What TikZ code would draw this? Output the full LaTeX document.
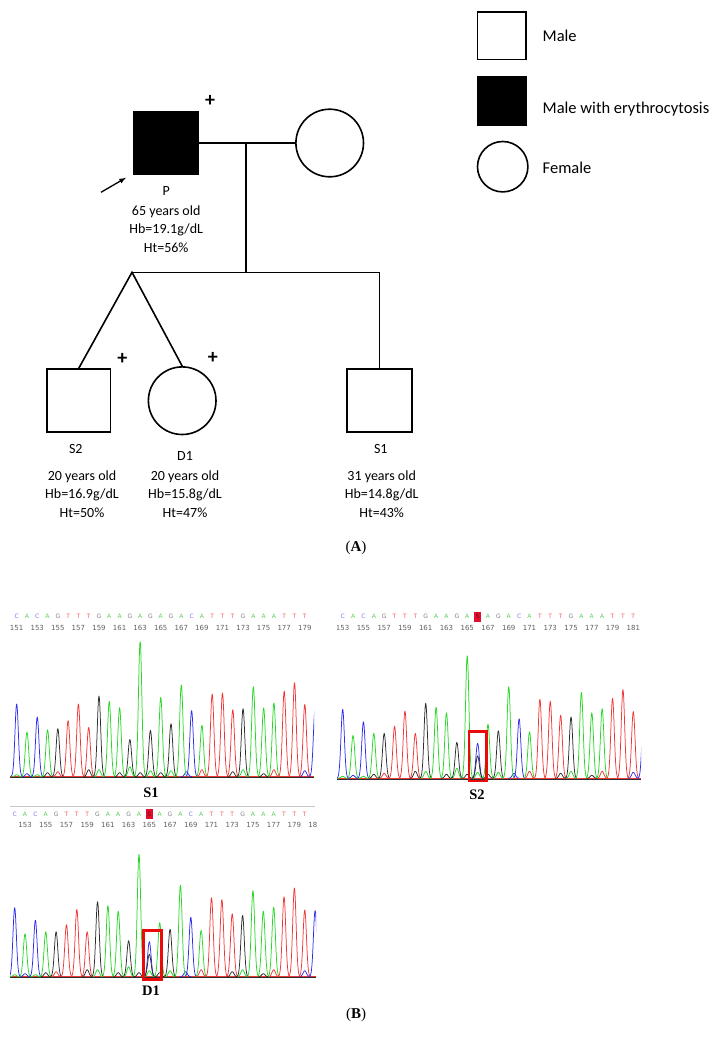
\documentclass[tikz,border=0pt]{standalone}
\usepackage{fontspec}
\setmainfont{Carlito}
\newfontfamily\seqfont{DejaVu Sans}
\newfontfamily\capfont{Liberation Serif}
\usepackage{tikz}
\usetikzlibrary{arrows.meta}

\definecolor{tblue}{RGB}{45,45,235}
\definecolor{tgreen}{RGB}{40,215,40}
\definecolor{tred}{RGB}{240,55,55}
\definecolor{tblack}{RGB}{45,45,45}
\definecolor{lC}{RGB}{120,120,235}
\definecolor{lA}{RGB}{90,205,90}
\definecolor{lG}{RGB}{125,125,125}
\definecolor{lT}{RGB}{240,95,95}
\definecolor{lS}{RGB}{120,0,20}
\definecolor{mutred}{RGB}{225,15,45}
\definecolor{numgray}{RGB}{95,95,95}
\definecolor{boxred}{RGB}{235,10,10}

\tikzset{
    malebox/.style={shape=rectangle, draw=black, line width=1.6pt, minimum width=64pt, minimum height=63pt, inner sep=0pt},
    femcirc/.style={shape=circle, draw=black, line width=1.6pt, minimum size=67.6pt, inner sep=0pt},
    pedline/.style={line width=1.6pt},
    pedtext/.style={font=\fontsize{14}{18.7}\selectfont, align=center, inner sep=0pt},
    legtext/.style={font=\fontsize{16.5}{20}\selectfont, anchor=base west, inner sep=0pt},
    plusmark/.style={font=\fontsize{20}{20}\selectfont\bfseries, inner sep=0pt},
    trace/.style={line width=0.75pt, line join=round},
    seqletter/.style={font=\seqfont\fontsize{6}{6}\selectfont, inner sep=0pt},
    letC/.style={text=lC}, letA/.style={text=lA}, letG/.style={text=lG}, letT/.style={text=lT},
    letS/.style={text=lS, fill=mutred, minimum width=7pt, minimum height=10pt},
    seqnum/.style={font=\seqfont\fontsize{7}{7}\selectfont, text=numgray, inner sep=0pt},
    hitbox/.style={draw=boxred, line width=2.5pt, inner sep=0pt},
    panellabel/.style={font=\capfont\bfseries\fontsize{14.5}{15}\selectfont, inner sep=0pt},
    partlabel/.style={font=\capfont\fontsize{15}{16}\selectfont, inner sep=0pt},
}

% peak lists: position/colour/height
\def\sonepeaks{1/tblue/72.7, 2/tgreen/44.7, 3/tblue/59.7, 4/tgreen/47, 5/tblack/48, 6/tred/56, 7/tred/72.7, 8/tred/49.3, 9/tblack/80.7, 10/tgreen/75.3, 11/tgreen/69, 12/tblack/37.3, 13/tgreen/135, 14/tblack/46.3, 15/tgreen/79.3, 16/tblack/53, 17/tgreen/91.7, 18/tblue/66, 19/tgreen/51.3, 20/tred/82.7, 21/tred/83.7, 22/tred/67, 23/tblack/68, 24/tgreen/90, 25/tgreen/68.7, 26/tgreen/73.7, 27/tred/85.7, 28/tred/94, 29/tred/72.3, 30/tblue/68}
\def\mutpeaks{1/tblue/69, 2/tgreen/43, 3/tblue/56.5, 4/tgreen/45, 5/tblack/45, 6/tred/52, 7/tred/67.3, 8/tred/45, 9/tblack/75, 10/tgreen/71, 11/tgreen/65.5, 12/tblack/36, 13/tgreen/122.5, 14/tblue/35, 14/tblack/22.5, 15/tgreen/54, 16/tblack/47.5, 17/tgreen/91.5, 18/tblue/59.5, 19/tgreen/46.5, 20/tred/79, 21/tred/77, 22/tred/63, 23/tblack/61.3, 24/tgreen/86, 25/tgreen/65.5, 26/tgreen/69.5, 27/tred/80, 28/tred/88.7, 29/tred/66.8, 30/tblue/66}
\def\minorpeaks{1/tgreen/2, 2/tblue/3, 3/tgreen/2, 4/tblack/4, 5/tred/5, 8/tblack/7, 9/tgreen/7, 11/tblack/4, 12/tgreen/10, 13/tblack/4, 14/tgreen/6, 15/tblack/4, 16/tgreen/6, 17.5/tblue/5, 19/tred/7, 22/tblack/5, 23/tgreen/7, 25/tblack/3, 26/tred/7, 29/tblue/6}
\def\seqnorm{C,A,C,A,G,T,T,T,G,A,A,G,A,G,A,G,A,C,A,T,T,T,G,A,A,A,T,T,T}
\def\seqmut{C,A,C,A,G,T,T,T,G,A,A,G,A,S,A,G,A,C,A,T,T,T,G,A,A,A,T,T,T}

% #1 first peak x, #2 spacing, #3 baseline y, #4 list
\newcommand{\drawtrace}[4]{%
    \foreach \pn/\pcol/\pht in #4 {
        \draw[trace, \pcol] plot[domain=-5.5:5.5, samples=23, smooth]
            ({#1+(\pn-1)*#2+\x}, {#3-\pht*exp(-(\x*\x)/5.78)});
    }}
% #1 first x, #2 spacing, #3 y, #4 name prefix, #5 letters
\newcommand{\seqrow}[5]{%
    \foreach \pl [count=\pn] in #5 {
        \node[seqletter, let\pl] (#4\pn) at ({#1+(\pn-1)*#2}, #3) {\pl};
    }}
% #1 first x, #2 step, #3 y, #4 name prefix, #5 numbers
\newcommand{\numrow}[5]{%
    \foreach \nv [count=\pn] in {#5} {
        \node[seqnum] (#4\pn) at ({#1+(\pn-1)*#2}, #3) {\nv};
    }}

\begin{document}
\begin{tikzpicture}[x=1pt, y=-1pt, >=latex]
    \useasboundingbox (0,0) rectangle (712,1047);

    % legend
    \node[malebox, minimum width=48.4pt, minimum height=47.3pt] (legM) at (501.8,35.7) {};
    \node[malebox, fill=black, minimum width=48.4pt, minimum height=48pt] (legE) at (501.8,100.7) {};
    \node[femcirc, minimum size=50.4pt] (legF) at (502.7,166.7) {};
    \node[legtext] (legMtxt) at (542.5,41.2) {Male};
    \node[legtext] (legEtxt) at (542.5,113.8) {Male with erythrocytosis};
    \node[legtext] (legFtxt) at (542.5,173.2) {Female};

    % pedigree
    \node[malebox, fill=black] (P) at (165.8,143) {};
    \node[femcirc] (W) at (329.7,143) {};
    \node[malebox, minimum width=63.5pt] (S2) at (78.8,400.5) {};
    \node[femcirc] (D1) at (182.2,400.7) {};
    \node[malebox, minimum width=64.8pt] (S1) at (379.5,400.5) {};
    \coordinate (mate) at (246.1,143);
    \coordinate (sibmid) at (246.1,272.3);
    \coordinate (twin) at (132,272.3);
    \coordinate (sibend) at (379.5,272.3);

    \draw[pedline] (P.east) -- (W.west);
    \draw[pedline] (mate) -- (sibmid);
    \draw[pedline] (S2.north) -- (twin) -- (D1.north);
    \draw[pedline] (twin) -- (sibend) -- (S1.north);

    \coordinate (ptail) at (101,192.3);
    \coordinate (phead) at (126,177.7);
    \draw[->, line width=1.3pt] (ptail) -- (phead);

    \node[plusmark] (Pplus) at (210,101) {+};
    \node[plusmark] (S2plus) at (122.4,359.3) {+};
    \node[plusmark] (D1plus) at (212.8,357.7) {+};

    \node[pedtext] (Pname) at (166.2,190.7) {P};
    \node[pedtext] (Pdata) at (166.2,229) {65 years old\\Hb=19.1g/dL\\Ht=56\%};
    \node[pedtext] (S2name) at (75.8,449.3) {S2};
    \node[pedtext] (S2data) at (82,494) {20 years old\\Hb=16.9g/dL\\Ht=50\%};
    \node[pedtext] (D1name) at (185,456) {D1};
    \node[pedtext] (D1data) at (185,494) {20 years old\\Hb=15.8g/dL\\Ht=47\%};
    \node[pedtext] (S1name) at (380.8,449.3) {S1};
    \node[pedtext] (S1data) at (381.7,494) {31 years old\\Hb=14.8g/dL\\Ht=43\%};

    \node[partlabel] (capA) at (356,548) {(\textbf{A})};

    % chromatogram S1
    \begin{scope}
        \clip (10,600) rectangle (314,790);
        \draw[trace, tred] (10,776.7) -- (314,776.7);
        \draw[trace, tblack, line width=0.5pt] (10,777.4) -- (314,777.4);
        \drawtrace{16.67}{10.29}{776.7}{\minorpeaks}
        \drawtrace{16.67}{10.29}{776.7}{\sonepeaks}
        \seqrow{16.67}{10.29}{616}{sa}{\seqnorm}
        \numrow{16.67}{20.58}{627.7}{na}{151,153,...,179}
    \end{scope}
    \node[panellabel] (labS1) at (151,792.5) {S1};

    % chromatogram S2
    \begin{scope}
        \clip (337,600) rectangle (641,790);
        \draw[trace, tred] (337,778.3) -- (641,778.3);
        \draw[trace, tblack, line width=0.5pt] (337,779) -- (641,779);
        \drawtrace{342.67}{10.38}{778.3}{\minorpeaks}
        \drawtrace{342.67}{10.38}{778.3}{\mutpeaks}
        \seqrow{342.67}{10.38}{616.5}{sb}{\seqmut}
        \numrow{342.67}{20.76}{627.7}{nb}{153,155,...,181}
    \end{scope}
    \node[hitbox, minimum width=17.7pt, minimum height=49.3pt] (S2hit) at (477.8,756.3) {};
    \node[panellabel] (labS2) at (477,795) {S2};

    % chromatogram D1
    \draw[gray!45, line width=0.6pt] (10,806.7) -- (315,806.7);
    \begin{scope}
        \clip (10,808) rectangle (316,985);
        \draw[trace, tred] (10,976.7) -- (316,976.7);
        \draw[trace, tblack, line width=0.5pt] (10,977.4) -- (316,977.4);
        \drawtrace{14.67}{10.36}{976.7}{\minorpeaks}
        \drawtrace{14.67}{10.36}{976.7}{\mutpeaks}
        \seqrow{14.67}{10.36}{814}{sc}{\seqmut}
        \numrow{25.03}{20.72}{825}{nc}{153,155,...,181}
    \end{scope}
    \node[hitbox, minimum width=18.4pt, minimum height=48.6pt] (D1hit) at (152.5,955) {};
    \node[panellabel] (labD1) at (151,991) {D1};

    \node[partlabel] (capB) at (356,1015) {(\textbf{B})};
\end{tikzpicture}
\end{document}
